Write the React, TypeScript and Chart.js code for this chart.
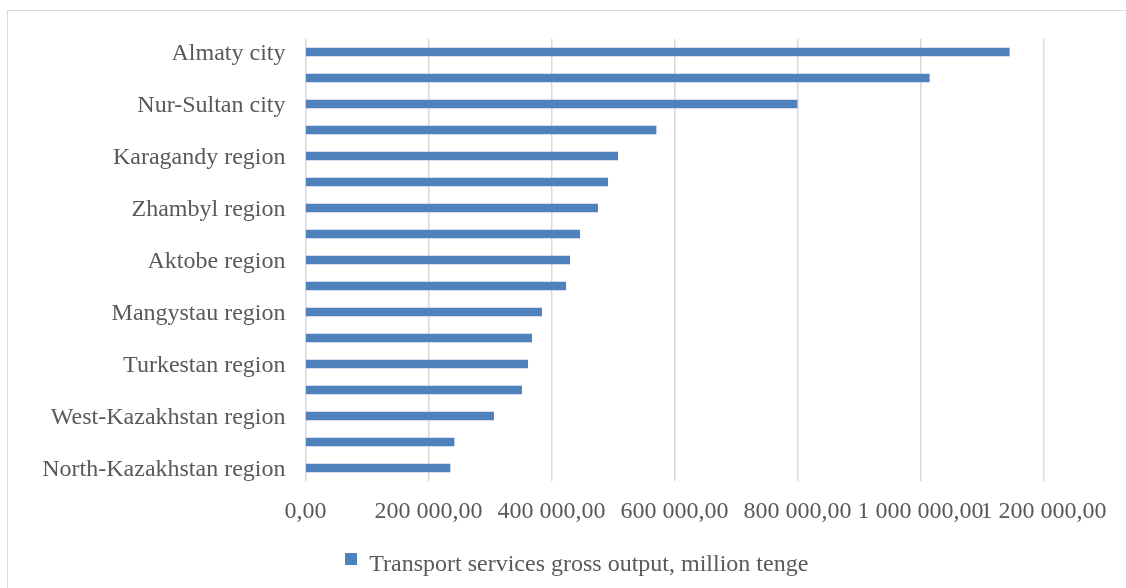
import React, { useEffect, useRef } from "react";
import { Chart, registerables } from "chart.js";

Chart.register(...registerables);

const categories = [
  "Almaty city",
  "Atyrau region",
  "Nur-Sultan city",
  "Pavlodar region",
  "Karagandy region",
  "East-Kazakhstan region",
  "Zhambyl region",
  "Almaty region",
  "Aktobe region",
  "Kostanay region",
  "Mangystau region",
  "Kyzylorda region",
  "Turkestan region",
  "Akmola region",
  "West-Kazakhstan region",
  "Shymkent city",
  "North-Kazakhstan region",
];

const values = [
  1144400, 1014300, 799200, 570000, 507600, 491400, 475100, 445900, 429600,
  423100, 384100, 367800, 361300, 351500, 306000, 241500, 235000,
];

const xTicks = [0, 200000, 400000, 600000, 800000, 1000000, 1200000];
const xTickLabels = [
  "0,00",
  "200 000,00",
  "400 000,00",
  "600 000,00",
  "800 000,00",
  "1 000 000,00",
  "1 200 000,00",
];

const seriesName = "Transport services gross output, million tenge";

export default function App() {
  const ref = useRef<HTMLCanvasElement>(null);

  useEffect(() => {
    document.documentElement.style.overflow = "hidden";
    const font = { family: "'Liberation Serif', 'Times New Roman', serif", size: 24 };

    const marker = document.createElement("canvas");
    marker.width = 12;
    marker.height = 24;
    const mctx = marker.getContext("2d")!;
    mctx.fillStyle = "#4f81bd";
    mctx.fillRect(0, 0, 12, 12);

    const shiftLegend = {
      id: "shiftLegend",
      afterLayout(chart: any) {
        if (chart.legend) {
          chart.legend.left = 110;
        }
      },
    };

    const chart = new Chart(ref.current!, {
      type: "bar",
      data: {
        labels: categories,
        datasets: [
          {
            label: seriesName,
            data: values,
            backgroundColor: "#4f81bd",
            borderColor: "#4f81bd",
            borderWidth: 0,
            barThickness: 8,
          },
        ],
      },
      plugins: [shiftLegend],
      options: {
        indexAxis: "y",
        responsive: false,
        animation: false,
        layout: { padding: { top: 39, bottom: 1, left: 0, right: 82.5 } },
        plugins: {
          tooltip: { enabled: false },
          legend: {
            position: "bottom",
            labels: {
              font,
              color: "#595959",
              usePointStyle: true,
              pointStyle: marker as any,
              pointStyleWidth: 12,
              boxWidth: 12,
              boxHeight: 24,
              padding: 10,
            },
          },
        },
        scales: {
          x: {
            type: "linear",
            min: 0,
            max: 1200000,
            afterBuildTicks: (scale: any) => {
              scale.ticks = xTicks.map((v) => ({ value: v }));
            },
            afterFit: (scale: any) => {
              scale.height = 62;
            },
            ticks: {
              font,
              color: "#595959",
              autoSkip: false,
              maxRotation: 0,
              padding: 16,
              callback: (_v: any, i: number) => xTickLabels[i],
            },
            grid: { color: "#d9d9d9", lineWidth: 1.5, drawTicks: false },
            border: { display: false },
          },
          y: {
            afterFit: (scale: any) => {
              scale.width = 305.5;
            },
            ticks: {
              font,
              color: "#595959",
              autoSkip: false,
              padding: 20,
              labelOffset: 1.5,
              callback: (_v: any, i: number) => (i % 2 === 0 ? categories[i] : ""),
            },
            grid: { display: false, drawTicks: false },
            border: { display: false },
          },
        },
      },
    });
    return () => chart.destroy();
  }, []);

  return (
    <div style={{ position: "absolute", left: 0, top: 0, width: 1126, height: 588, overflow: "hidden" }}>
      <div
        style={{
          position: "absolute",
          left: 7,
          top: 10,
          width: 1140,
          height: 600,
          border: "1px solid #d9d9d9",
          boxSizing: "border-box",
        }}
      />
      <canvas
        ref={ref}
        width={1126}
        height={588}
        style={{ position: "absolute", left: 0, top: 0, width: 1126, height: 588 }}
      />
    </div>
  );
}
